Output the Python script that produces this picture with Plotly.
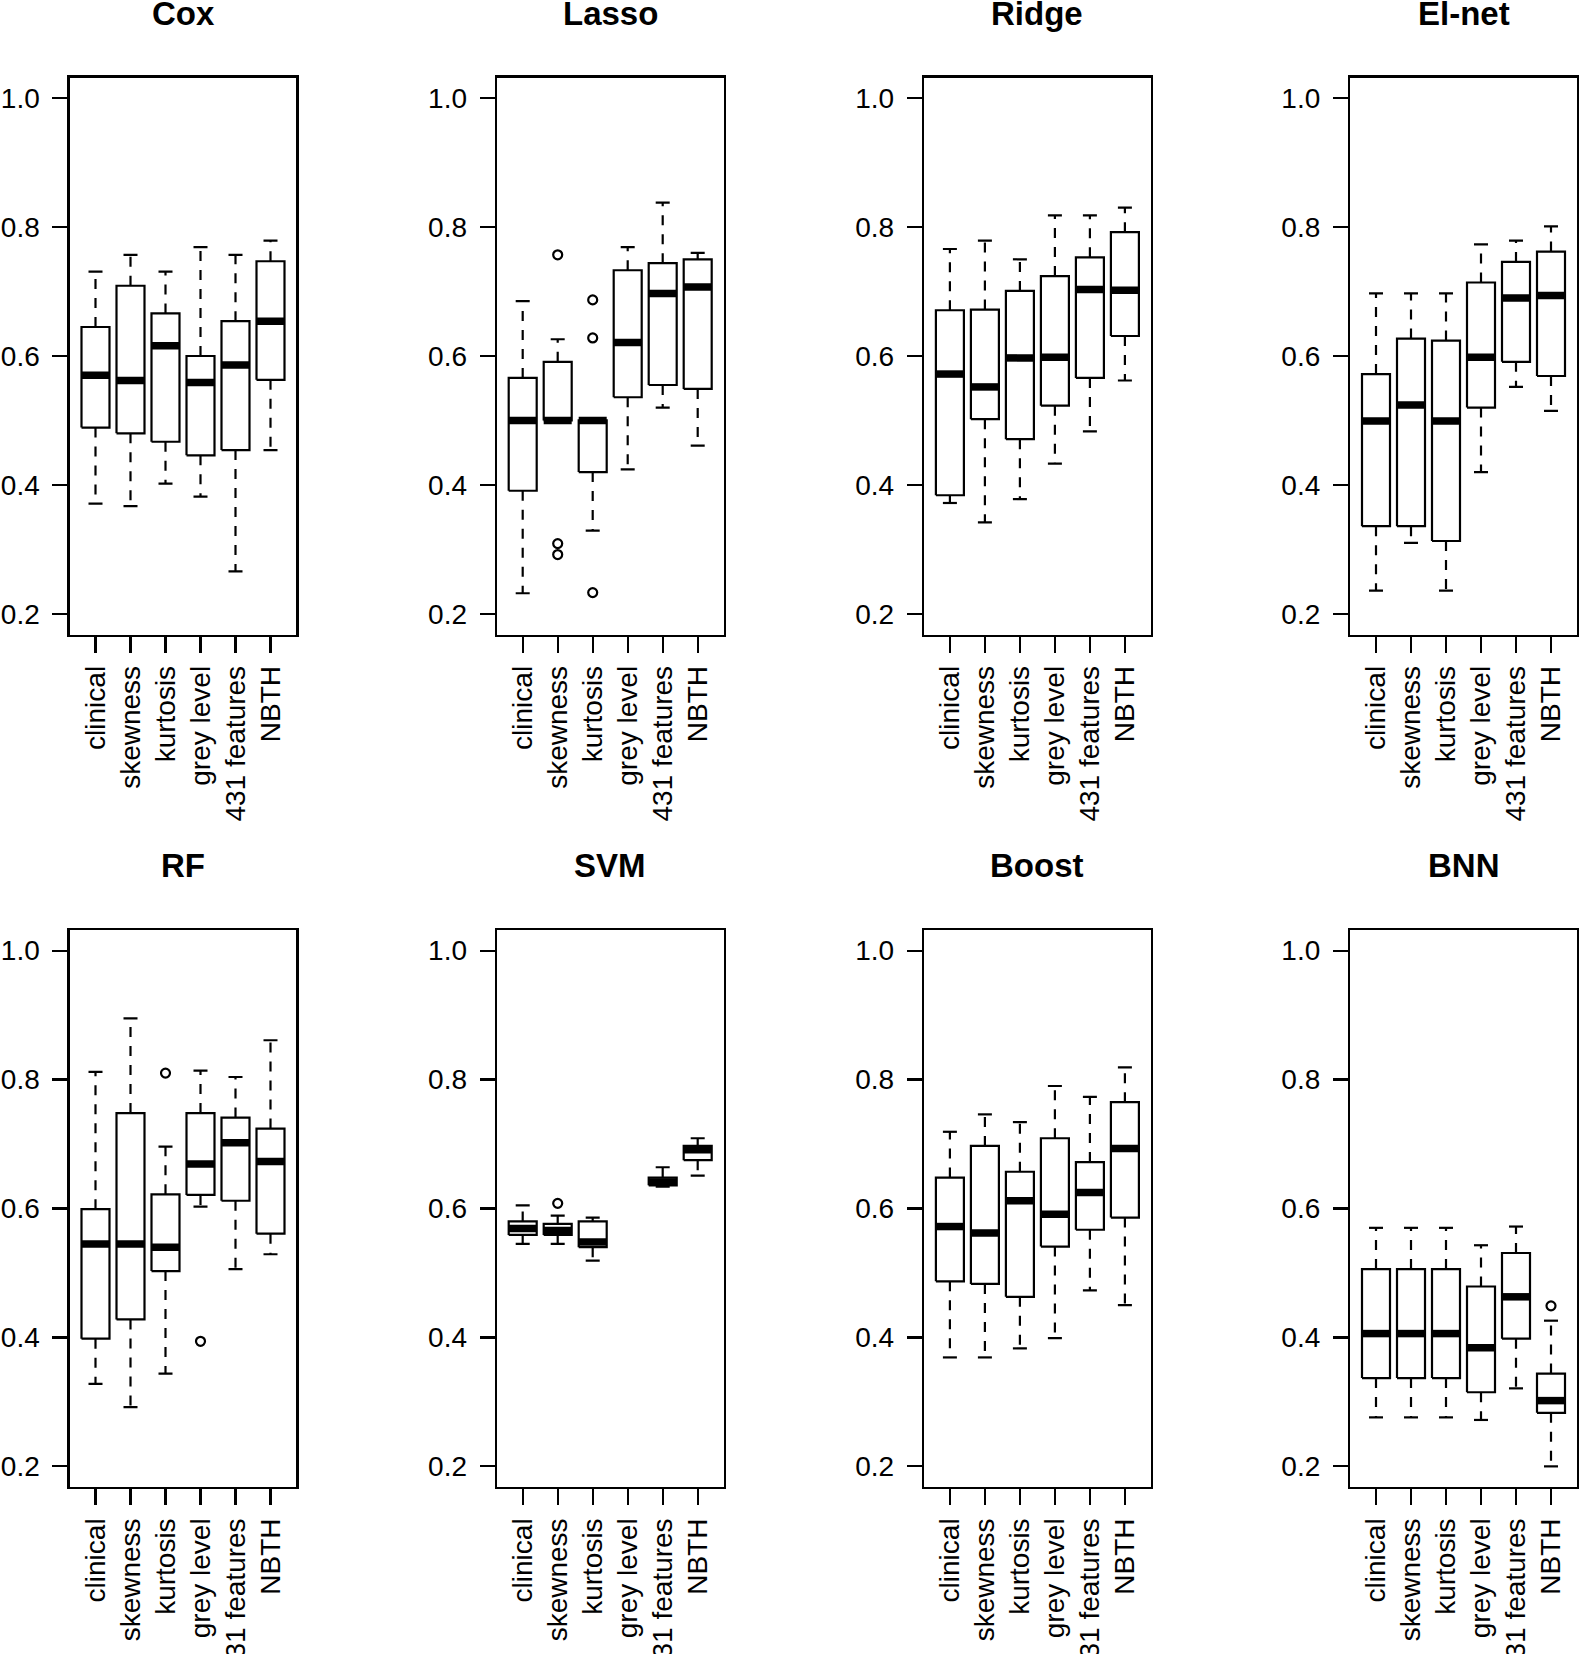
import plotly.graph_objects as go

# ---------------- data ----------------
categories = ["clinical", "skewness", "kurtosis", "grey level", "431 features", "NBTH"]
models = ["Cox", "Lasso", "Ridge", "El-net", "RF", "SVM", "Boost", "BNN"]
y_ticks = [0.2, 0.4, 0.6, 0.8, 1.0]
y_tick_labels = ["0.2", "0.4", "0.6", "0.8", "1.0"]

cox_lower = [0.371, 0.367, 0.402, 0.382, 0.266, 0.454]
cox_q1 = [0.489, 0.480, 0.467, 0.446, 0.454, 0.563]
cox_median = [0.570, 0.562, 0.616, 0.559, 0.586, 0.654]
cox_q3 = [0.645, 0.709, 0.666, 0.600, 0.654, 0.747]
cox_upper = [0.731, 0.757, 0.731, 0.769, 0.757, 0.779]
cox_out_cat = []
cox_out_val = []

lasso_lower = [0.232, 0.500, 0.329, 0.424, 0.520, 0.461]
lasso_q1 = [0.391, 0.500, 0.420, 0.536, 0.555, 0.549]
lasso_median = [0.500, 0.500, 0.500, 0.621, 0.697, 0.707]
lasso_q3 = [0.566, 0.591, 0.500, 0.733, 0.744, 0.750]
lasso_upper = [0.685, 0.626, 0.500, 0.769, 0.838, 0.760]
lasso_out_cat = ["skewness", "skewness", "skewness", "kurtosis", "kurtosis", "kurtosis"]
lasso_out_val = [0.757, 0.309, 0.292, 0.687, 0.628, 0.233]

ridge_lower = [0.372, 0.342, 0.378, 0.433, 0.483, 0.562]
ridge_q1 = [0.384, 0.502, 0.471, 0.523, 0.566, 0.631]
ridge_median = [0.572, 0.552, 0.597, 0.598, 0.703, 0.702]
ridge_q3 = [0.671, 0.672, 0.701, 0.724, 0.753, 0.792]
ridge_upper = [0.766, 0.779, 0.750, 0.818, 0.818, 0.830]
ridge_out_cat = []
ridge_out_val = []

elnet_lower = [0.236, 0.310, 0.236, 0.420, 0.552, 0.515]
elnet_q1 = [0.336, 0.336, 0.313, 0.520, 0.591, 0.569]
elnet_median = [0.499, 0.524, 0.499, 0.598, 0.690, 0.694]
elnet_q3 = [0.572, 0.627, 0.624, 0.714, 0.746, 0.762]
elnet_upper = [0.697, 0.697, 0.697, 0.773, 0.779, 0.801]
elnet_out_cat = []
elnet_out_val = []

rf_lower = [0.328, 0.292, 0.344, 0.603, 0.506, 0.529]
rf_q1 = [0.398, 0.428, 0.503, 0.621, 0.612, 0.561]
rf_median = [0.545, 0.545, 0.540, 0.669, 0.702, 0.673]
rf_q3 = [0.599, 0.748, 0.622, 0.748, 0.741, 0.724]
rf_upper = [0.812, 0.895, 0.696, 0.814, 0.804, 0.861]
rf_out_cat = ["kurtosis", "grey level"]
rf_out_val = [0.810, 0.394]

svm_lower = [0.545, 0.545, 0.519, None, 0.634, 0.651]
svm_q1 = [0.559, 0.559, 0.540, None, 0.636, 0.675]
svm_median = [0.569, 0.566, 0.548, None, 0.641, 0.691]
svm_q3 = [0.580, 0.576, 0.580, None, 0.648, 0.697]
svm_upper = [0.605, 0.589, 0.586, None, 0.664, 0.709]
svm_out_cat = ["skewness"]
svm_out_val = [0.608]

boost_lower = [0.369, 0.369, 0.383, 0.399, 0.473, 0.450]
boost_q1 = [0.487, 0.483, 0.463, 0.541, 0.567, 0.586]
boost_median = [0.572, 0.562, 0.612, 0.591, 0.625, 0.693]
boost_q3 = [0.648, 0.697, 0.657, 0.709, 0.672, 0.765]
boost_upper = [0.719, 0.746, 0.734, 0.790, 0.773, 0.819]
boost_out_cat = []
boost_out_val = []

bnn_lower = [0.276, 0.276, 0.276, 0.272, 0.321, 0.200]
bnn_q1 = [0.337, 0.337, 0.337, 0.315, 0.398, 0.283]
bnn_median = [0.406, 0.406, 0.406, 0.384, 0.463, 0.302]
bnn_q3 = [0.506, 0.506, 0.506, 0.479, 0.531, 0.344]
bnn_upper = [0.570, 0.570, 0.570, 0.543, 0.572, 0.426]
bnn_out_cat = ["NBTH"]
bnn_out_val = [0.449]

panels = [
    (cox_lower, cox_q1, cox_median, cox_q3, cox_upper, cox_out_cat, cox_out_val),
    (lasso_lower, lasso_q1, lasso_median, lasso_q3, lasso_upper, lasso_out_cat, lasso_out_val),
    (ridge_lower, ridge_q1, ridge_median, ridge_q3, ridge_upper, ridge_out_cat, ridge_out_val),
    (elnet_lower, elnet_q1, elnet_median, elnet_q3, elnet_upper, elnet_out_cat, elnet_out_val),
    (rf_lower, rf_q1, rf_median, rf_q3, rf_upper, rf_out_cat, rf_out_val),
    (svm_lower, svm_q1, svm_median, svm_q3, svm_upper, svm_out_cat, svm_out_val),
    (boost_lower, boost_q1, boost_median, boost_q3, boost_upper, boost_out_cat, boost_out_val),
    (bnn_lower, bnn_q1, bnn_median, bnn_q3, bnn_upper, bnn_out_cat, bnn_out_val),
]

# ---------------- layout geometry (window pixels) ----------------
W, H = 1579, 1654
col_left = [69.6, 496.8, 924.0, 1350.1]
row_top = [77.5, 930.0]
pw, ph = 226.8, 557.0
title_y = [14.0, 865.0]

FONT = "Liberation Sans, Arial, Helvetica, sans-serif"
BOXW = 0.4      # half box width (R boxwex 0.8)
STAPLE = 0.2    # half staple width
LW = 2.2

fig = go.Figure()
layout_axes = {}
annotations = []

for k, (model, stats) in enumerate(zip(models, panels)):
    lower, q1, med, q3, upper, out_cat, out_val = stats
    r, c = divmod(k, 4)
    xa = "x" if k == 0 else f"x{k+1}"
    ya = "y" if k == 0 else f"y{k+1}"

    wx, wy, sx, sy, bx, by, mx, my = [], [], [], [], [], [], [], []
    for i, cat in enumerate(categories):
        if med[i] is None:
            continue
        xc = i + 1
        if upper[i] > q3[i]:
            wx += [xc, xc, None]; wy += [q3[i], upper[i], None]
        if lower[i] < q1[i]:
            wx += [xc, xc, None]; wy += [q1[i], lower[i], None]
        sx += [xc - STAPLE, xc + STAPLE, None, xc - STAPLE, xc + STAPLE, None]
        sy += [upper[i], upper[i], None, lower[i], lower[i], None]
        bx += [xc - BOXW, xc + BOXW, xc + BOXW, xc - BOXW, xc - BOXW, None]
        by += [q1[i], q1[i], q3[i], q3[i], q1[i], None]
        mx += [xc - BOXW, xc + BOXW, None]
        my += [med[i], med[i], None]

    fig.add_trace(go.Scatter(x=wx, y=wy, mode="lines", xaxis=xa, yaxis=ya,
                             line=dict(color="black", width=LW, dash="10px,9px"),
                             hoverinfo="skip", showlegend=False))
    fig.add_trace(go.Scatter(x=sx, y=sy, mode="lines", xaxis=xa, yaxis=ya,
                             line=dict(color="black", width=LW),
                             hoverinfo="skip", showlegend=False))
    fig.add_trace(go.Scatter(x=bx, y=by, mode="lines", xaxis=xa, yaxis=ya,
                             line=dict(color="black", width=LW),
                             hoverinfo="skip", showlegend=False))
    fig.add_trace(go.Scatter(x=mx, y=my, mode="lines", xaxis=xa, yaxis=ya,
                             line=dict(color="black", width=7.5),
                             hoverinfo="skip", showlegend=False))
    if out_val:
        ox = [categories.index(cc) + 1 for cc in out_cat]
        fig.add_trace(go.Scatter(x=ox, y=out_val, mode="markers", xaxis=xa, yaxis=ya,
                                 marker=dict(symbol="circle-open", size=9, color="black",
                                             line=dict(width=2.2, color="black")),
                                 hoverinfo="skip", showlegend=False))

    L = col_left[c]
    T = row_top[r]
    xdom = [L / W, min((L + pw) / W, 1.0)]
    ydom = [1 - (T + ph) / H, 1 - T / H]
    xkey = "xaxis" if k == 0 else f"xaxis{k+1}"
    ykey = "yaxis" if k == 0 else f"yaxis{k+1}"
    layout_axes[xkey] = dict(
        domain=xdom, anchor=ya, range=[0.26, 6.74], automargin=False,
        tickmode="array", tickvals=list(range(1, 7)), ticktext=categories,
        tickangle=-90, ticks="outside", ticklen=16, tickwidth=LW, tickcolor="black",
        showline=True, mirror=True, linecolor="black", linewidth=LW,
        showgrid=False, zeroline=False, ticklabelstandoff=2,
        tickfont=dict(family=FONT, size=28, color="black"),
    )
    layout_axes[ykey] = dict(
        domain=ydom, anchor=xa, range=[0.168, 1.032], automargin=False,
        tickmode="array", tickvals=y_ticks, ticktext=y_tick_labels,
        ticks="outside", ticklen=15, tickwidth=LW, tickcolor="black",
        showline=True, mirror=True, linecolor="black", linewidth=LW,
        showgrid=False, zeroline=False, ticklabelstandoff=7,
        tickfont=dict(family=FONT, size=28, color="black"),
    )
    annotations.append(dict(
        text=f"<b>{model}</b>", xref="paper", yref="paper",
        x=(L + pw / 2) / W, y=1 - title_y[r] / H,
        xanchor="center", yanchor="middle",
        showarrow=False, font=dict(family=FONT, size=33, color="black"),
    ))

fig.update_layout(
    width=W, height=H, autosize=False,
    margin=dict(l=0, r=0, t=0, b=0, autoexpand=False),
    paper_bgcolor="white", plot_bgcolor="white",
    annotations=annotations, showlegend=False,
    font=dict(family=FONT, color="black"),
    **layout_axes,
)

fig.write_html(
    "out.html",
    config={"displayModeBar": False, "staticPlot": True},
    post_script="document.body.style.margin='0';document.body.style.overflow='hidden';",
)
